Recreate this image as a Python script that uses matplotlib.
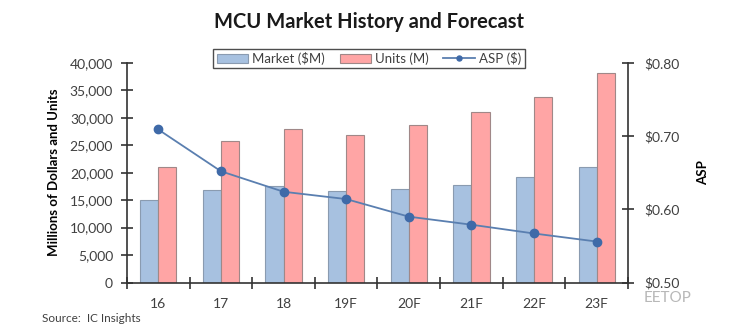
import numpy as np
import matplotlib.pyplot as plt

plt.rcParams['font.family'] = ['Lato', 'DejaVu Sans']

# Data
years = ["16", "17", "18", "19F", "20F", "21F", "22F", "23F"]
market = [15100, 16800, 17500, 16600, 17100, 17750, 19300, 21100]
units = [21000, 25700, 28000, 26800, 28750, 31000, 33700, 38200]
asp = [0.709, 0.652, 0.624, 0.614, 0.590, 0.579, 0.567, 0.556]

blue = "#a7c1e0"
pink = "#ffa5a5"
line_col = "#5a7fb0"
mark_col = "#3f6aa8"

fig = plt.figure(figsize=(7.38, 3.36), dpi=100)
ax = fig.add_axes([0.172, 0.159, 0.679, 0.654])

x = np.arange(len(years))
w = 0.29
b1 = ax.bar(x - w / 2, market, w, color=blue, edgecolor="#8a9bb0",
            linewidth=0.8, label="Market ($M)")
b2 = ax.bar(x + w / 2, units, w, color=pink, edgecolor="#a08888",
            linewidth=0.8, label="Units (M)")

ax.set_xlim(-0.5, len(years) - 0.5)
ax.set_ylim(0, 40000)
ax.set_yticks(np.arange(0, 40001, 5000))
ax.set_yticklabels([f"{v:,}" for v in range(0, 40001, 5000)])
ax.set_xticks(np.arange(-0.5, len(years), 1.0))
ax.set_xticklabels([])
ax.set_xticks(x, minor=True)
ax.set_xticklabels(years, minor=True)
ax.tick_params(axis="x", which="major", direction="inout", length=8,
               width=1.2, color="#333333")
ax.tick_params(axis="x", which="minor", length=0, pad=11,
               labelsize=10, labelcolor="#404040")
ax.tick_params(axis="y", direction="inout", length=8, width=1.2,
               color="#333333", labelsize=10, labelcolor="#404040", pad=6)

ax.spines["top"].set_visible(False)
ax.spines["right"].set_visible(False)
for s in ["left", "bottom"]:
    ax.spines[s].set_linewidth(1.2)
    ax.spines[s].set_color("#333333")

ax.set_ylabel("Millions of Dollars and Units", fontsize=9.5,
              fontweight="bold", labelpad=7)

ax2 = ax.twinx()
ax2.set_ylim(0.5, 0.8)
ax2.set_yticks([0.5, 0.6, 0.7, 0.8])
ax2.set_yticklabels(["$0.50", "$0.60", "$0.70", "$0.80"])
ax2.tick_params(axis="y", direction="inout", length=8, width=1.2,
                color="#333333", labelsize=10, labelcolor="#404040", pad=8)
for s in ["top", "left", "bottom"]:
    ax2.spines[s].set_visible(False)
ax2.spines["right"].set_linewidth(1.2)
ax2.spines["right"].set_color("#333333")
ax2.set_ylabel("ASP", fontsize=9.5, fontweight="bold", rotation=90,
               labelpad=12)

ln, = ax2.plot(x, asp, color=line_col, linewidth=1.3, marker="o",
               markersize=6, markerfacecolor=mark_col,
               markeredgecolor=mark_col, label="ASP ($)")

leg = fig.legend(handles=[b1, b2, ln], loc="center",
                 bbox_to_anchor=(0.5, 0.826), ncol=3, frameon=True,
                 fancybox=False, edgecolor="#222222", fontsize=9.5,
                 handlelength=2.4, handleheight=0.7, columnspacing=1.1,
                 handletextpad=0.3, borderpad=0.25, markerscale=0.6)
leg.get_frame().set_linewidth(1.0)
for t in leg.get_texts():
    t.set_color("#404040")

fig.text(0.5, 0.935, "MCU Market History and Forecast", ha="center",
         va="center", fontsize=14.5, fontweight="bold", color="#1a1a1a")
fig.text(0.057, 0.052, "Source:  IC Insights", ha="left", va="center",
         fontsize=8.5, color="#404040")
fig.text(0.872, 0.112, "EETOP", ha="left", va="center",
         fontsize=11, color="#b8b8b8")

plt.savefig("out.png", dpi=100)
